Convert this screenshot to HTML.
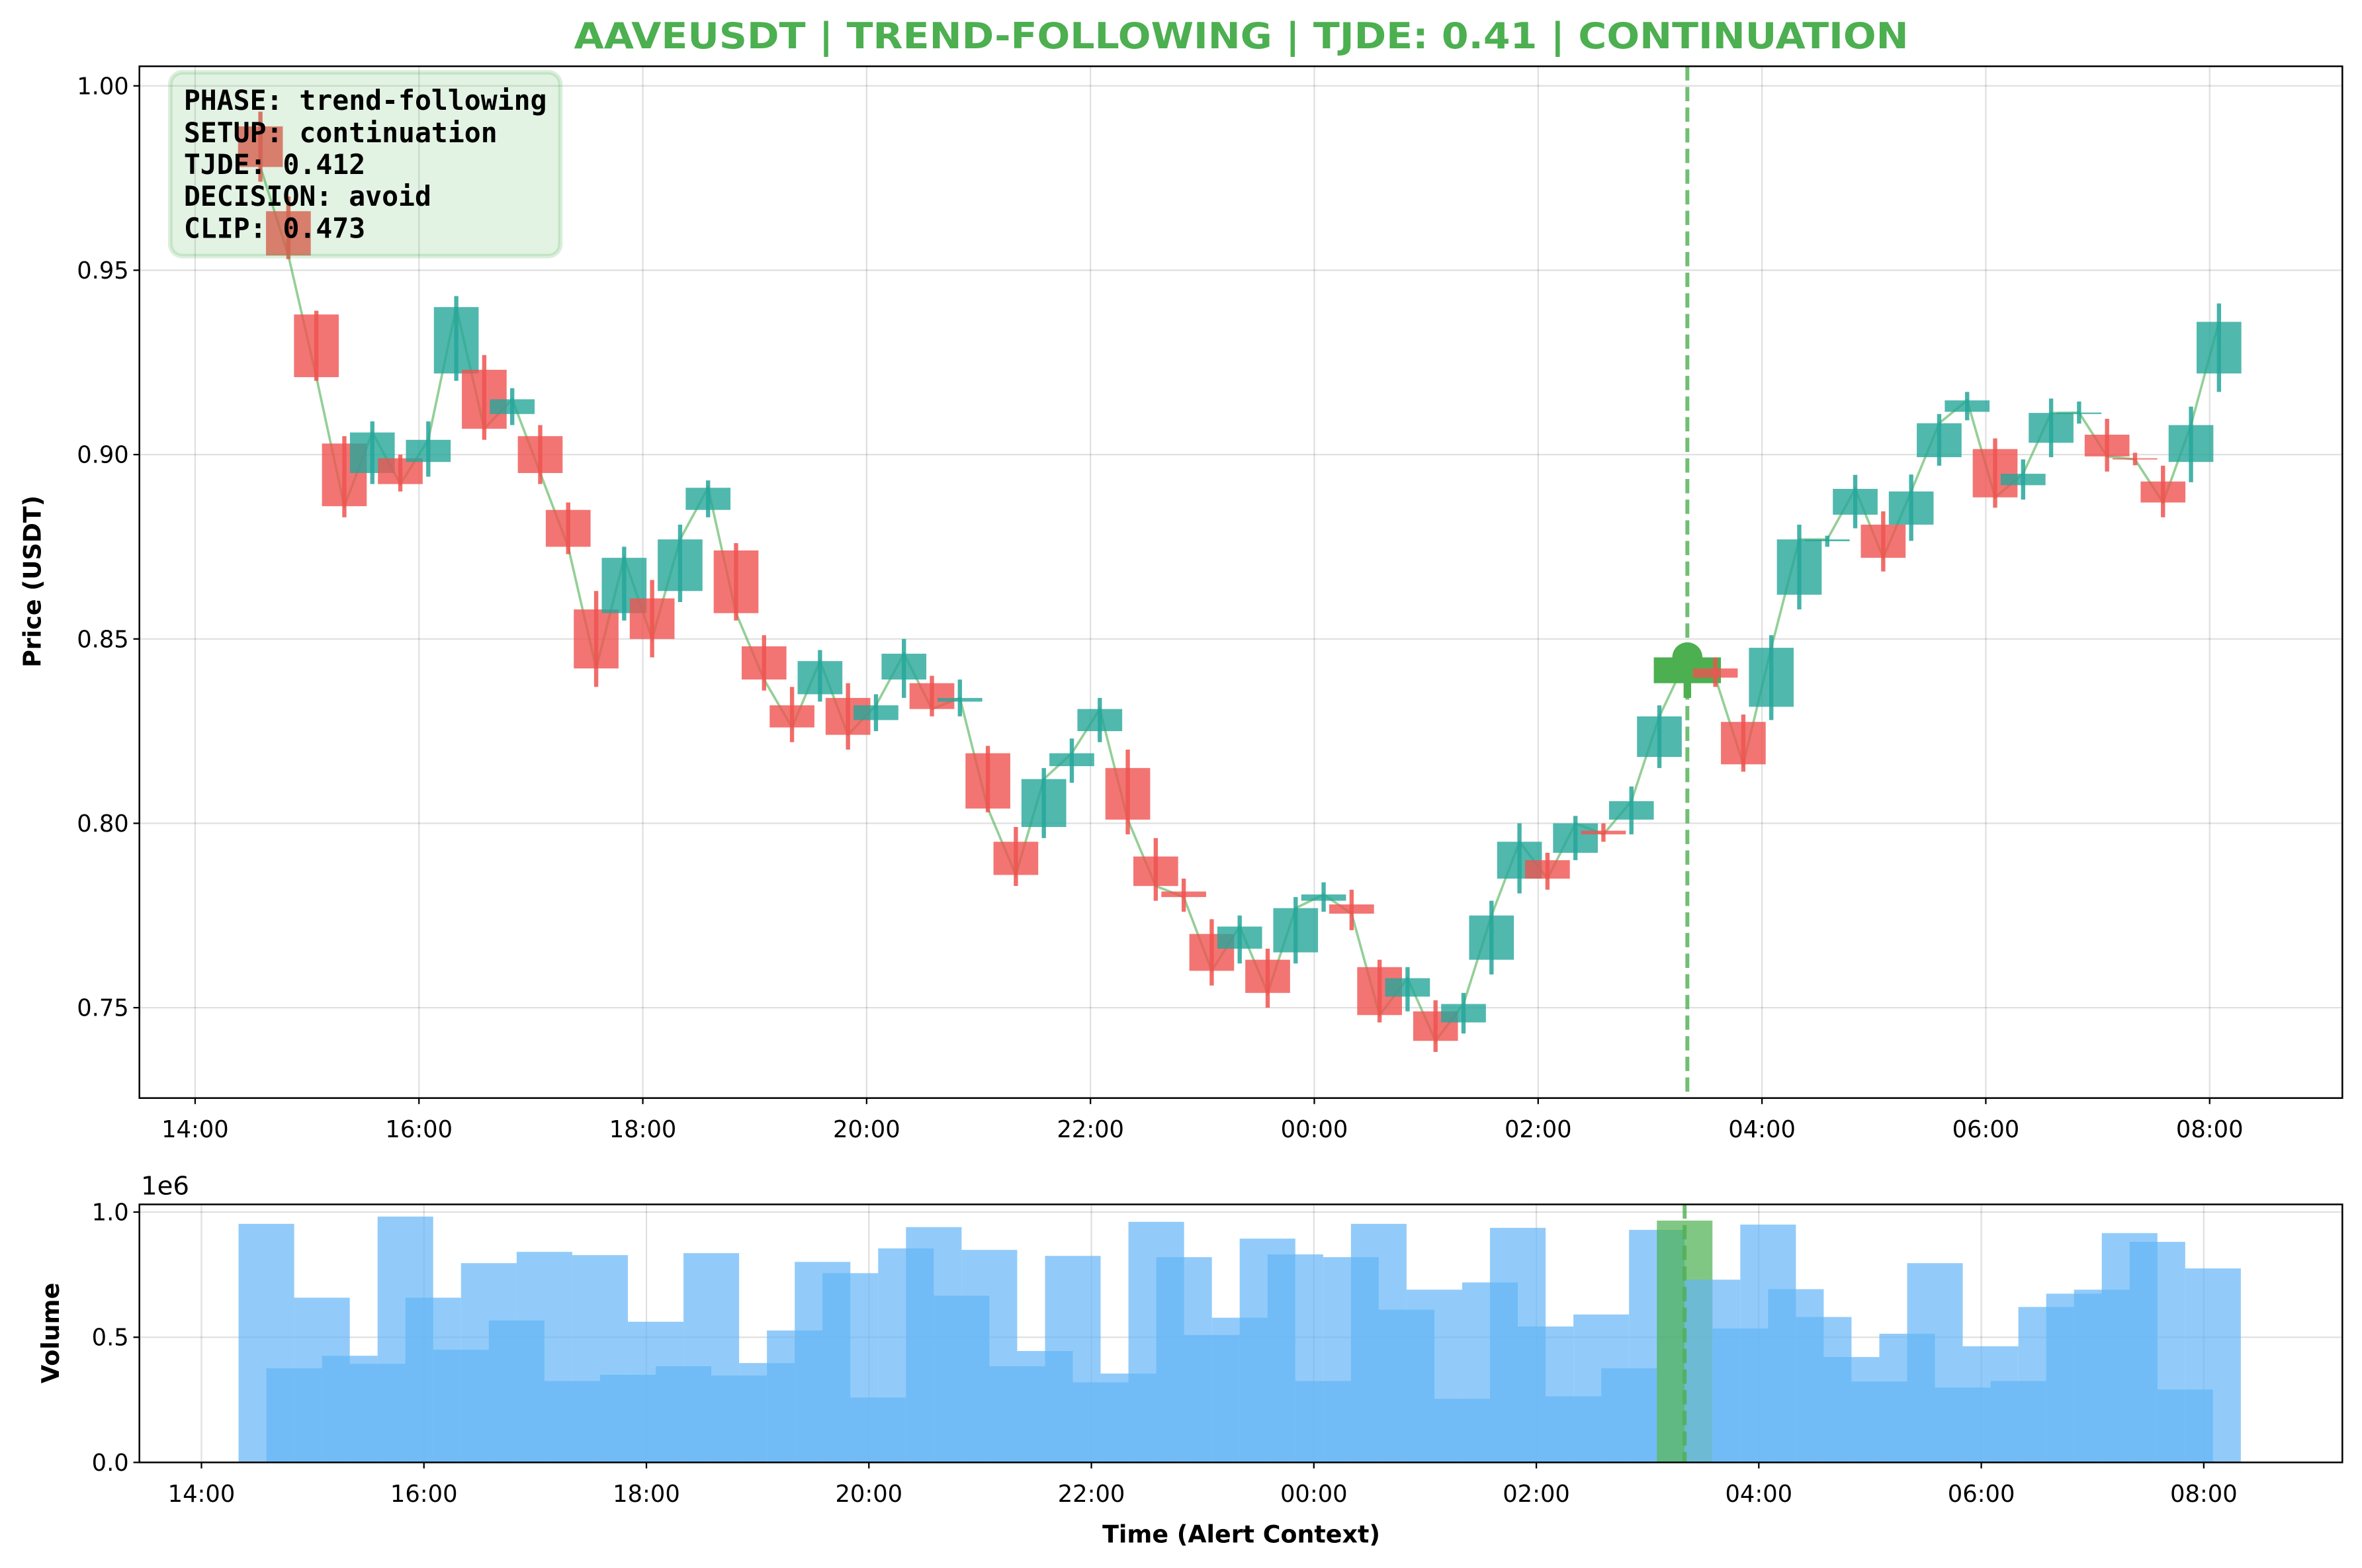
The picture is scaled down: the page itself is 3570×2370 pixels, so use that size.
<!DOCTYPE html>
<html><head><meta charset="utf-8"><style>
html,body{margin:0;padding:0;background:#fff;}
svg{display:block;}
text{font-family:"DejaVu Sans","Liberation Sans",sans-serif;}
</style></head><body>
<svg id="fig" xmlns="http://www.w3.org/2000/svg" width="3570" height="2370" viewBox="0 0 1568 1041">
<rect x="0" y="0" width="1568" height="1041" fill="#fff"/>
<text x="824" y="32" text-anchor="middle" font-size="24" font-weight="bold" fill="#4caf50" textLength="886" lengthAdjust="spacingAndGlyphs">AAVEUSDT | TREND-FOLLOWING | TJDE: 0.41 | CONTINUATION</text>
<g id="main"></g>
<g id="vol"></g>
<text transform="translate(27,386) rotate(-90)" text-anchor="middle" font-size="16" font-weight="bold">Price (USDT)</text>
<text transform="translate(39,885) rotate(-90)" text-anchor="middle" font-size="16" font-weight="bold">Volume</text>
<text x="824" y="1024" text-anchor="middle" font-size="16" font-weight="bold">Time (Alert Context)</text>
<text x="93.5" y="793" font-size="17">1e6</text>
<g>
<rect x="113" y="48" width="259" height="122" rx="8" ry="8" fill="#4caf50" fill-opacity="0.16" stroke="#4caf50" stroke-opacity="0.2" stroke-width="3"/>
<g font-size="18.2" font-weight="bold" fill="#000">
<text x="122" y="73" style="font-family:'DejaVu Sans Mono','Liberation Mono',monospace">PHASE: trend-following</text>
<text x="122" y="94.4" style="font-family:'DejaVu Sans Mono','Liberation Mono',monospace">SETUP: continuation</text>
<text x="122" y="115.6" style="font-family:'DejaVu Sans Mono','Liberation Mono',monospace">TJDE: 0.412</text>
<text x="122" y="136.6" style="font-family:'DejaVu Sans Mono','Liberation Mono',monospace">DECISION: avoid</text>
<text x="122" y="158" style="font-family:'DejaVu Sans Mono','Liberation Mono',monospace">CLIP: 0.473</text>
</g>
</g>
</svg>
<script>
const opens=[.989,.966,.938,.903,.895,.899,.898,.922,.923,.911,.905,.885,.858,.857,.861,.863,.885,.874,.848,.832,.835,.834,.828,.839,.838,.833,.819,.795,.799,.8155,.825,.815,.791,.7815,.770,.766,.763,.765,.779,.778,.761,.753,.749,.746,.763,.785,.790,.792,.798,.801,.818,.838,.842,.8275,.8316,.862,.8765,.8837,.881,.881,.8993,.9116,.9015,.8917,.9032,.911,.9054,.899,.8927,.898,.922];
const highs=[.993,.970,.939,.905,.909,.900,.909,.943,.927,.918,.908,.887,.863,.875,.866,.881,.893,.876,.851,.837,.847,.838,.835,.850,.840,.839,.821,.799,.815,.823,.834,.820,.796,.785,.774,.775,.766,.780,.784,.782,.763,.761,.752,.754,.779,.800,.792,.802,.800,.810,.832,.8465,.845,.8295,.851,.881,.878,.8945,.8846,.8946,.911,.917,.9044,.8987,.9152,.9144,.9097,.9005,.897,.913,.941];
const lows=[.974,.953,.920,.883,.892,.890,.894,.920,.904,.908,.892,.873,.837,.855,.845,.860,.883,.855,.836,.822,.833,.820,.825,.834,.829,.829,.803,.783,.796,.811,.822,.797,.779,.776,.756,.762,.750,.762,.776,.771,.746,.749,.738,.743,.759,.781,.782,.790,.795,.797,.815,.834,.837,.814,.828,.858,.875,.880,.8683,.8766,.897,.9093,.8856,.8878,.8993,.9084,.8954,.8971,.883,.8925,.917];
const closes=[.978,.954,.921,.886,.906,.892,.904,.940,.907,.915,.895,.875,.842,.872,.850,.877,.891,.857,.839,.826,.844,.824,.832,.846,.831,.834,.804,.786,.812,.819,.831,.801,.783,.780,.760,.772,.754,.777,.7807,.7755,.748,.758,.741,.751,.775,.795,.785,.800,.797,.806,.829,.845,.8395,.816,.8476,.877,.877,.8907,.872,.890,.9085,.9147,.8884,.8948,.9113,.9114,.8995,.8987,.887,.908,.936];
const volumes=[0.953,0.376,0.658,0.426,0.394,0.982,0.658,0.450,0.796,0.567,0.841,0.325,0.828,0.350,0.562,0.384,0.836,0.347,0.397,0.527,0.801,0.756,0.259,0.855,0.940,0.666,0.849,0.384,0.445,0.825,0.320,0.355,0.961,0.820,0.509,0.578,0.894,0.831,0.325,0.820,0.953,0.610,0.690,0.254,0.719,0.937,0.543,0.264,0.591,0.376,0.929,0.966,0.730,0.535,0.950,0.692,0.581,0.421,0.323,0.514,0.796,0.299,0.464,0.325,0.621,0.674,0.690,0.916,0.881,0.291,0.775];
const alertIndex=51;
const priceTicks=[0.75,0.80,0.85,0.90,0.95,1.00];
const priceTickLabels=["0.75","0.80","0.85","0.90","0.95","1.00"];
const volTicks=[0,0.5,1.0];
const volTickLabels=["0.0","0.5","1.0"];
const timeTicks=[0,2,4,6,8,10,12,14,16,18];
const timeTickLabels=["14:00","16:00","18:00","20:00","22:00","00:00","02:00","04:00","06:00","08:00"];
const startHour=0.5833, stepHour=0.25;

const NS="http://www.w3.org/2000/svg";
function mk(tag,attrs,parent){const e=document.createElementNS(NS,tag);for(const k in attrs)e.setAttribute(k,attrs[k]);parent.appendChild(e);return e;}
const M={l:92.5,r:1555,t:44,b:729};
const V={l:92.5,r:1555,t:799.6,b:970.9};
const xm=t=>129.5+74.3*t;
const xv=t=>133.7+73.85*t;
const ym=p=>57+(1.0-p)/0.05*122.4;
const yv=v=>970.9-v*166.2;
const tOf=i=>startHour+stepHour*i;
const main=document.getElementById('main');
const vol=document.getElementById('vol');

timeTicks.forEach((t,k)=>{
  const g=mk('line',{x1:xm(t),x2:xm(t),y1:M.t,y2:M.b,stroke:'#000','stroke-opacity':0.12,'stroke-width':1},main);
  
  
});
priceTicks.forEach((p,k)=>{
  const g=mk('line',{x1:M.l,x2:M.r,y1:ym(p),y2:ym(p),stroke:'#000','stroke-opacity':0.12,'stroke-width':1},main);
  
  
});
let pts=closes.map((c,i)=>xm(tOf(i)).toFixed(2)+','+ym(c).toFixed(2)).join(' ');
const cl=mk('polyline',{points:pts,fill:'none',stroke:'#4caf50','stroke-opacity':0.6,'stroke-width':1.6},main);


const bodyW=0.4*74.3;
for(let i=0;i<opens.length;i++){
  const x=xm(tOf(i));
  const up=closes[i]>=opens[i];
  const alert=i===alertIndex;
  const col=alert?'#4caf50':(up?'#26a69a':'#ef5350');
  const w=alert?bodyW*1.5:bodyW;
  const top=ym(Math.max(opens[i],closes[i])), bot=ym(Math.min(opens[i],closes[i]));
  if(alert){
    const mkr=mk('circle',{cx:x,cy:ym(closes[i]),r:10,fill:'#4caf50'},main);
    
    
  }
  const b=mk('rect',{x:x-w/2,y:top,width:w,height:Math.max(bot-top,0.8),fill:col,'fill-opacity':alert?1:0.8},main);
  
  
  const wk=mk('line',{x1:x,x2:x,y1:ym(highs[i]),y2:ym(lows[i]),stroke:col,'stroke-opacity':alert?1:0.85,'stroke-width':alert?5:2.8},main);
  
  
}
const xa=xm(tOf(alertIndex));
const al=mk('line',{x1:xa,x2:xa,y1:M.t,y2:M.b,stroke:'#4caf50','stroke-opacity':0.8,'stroke-width':2.6,'stroke-dasharray':'9.5,4.2'},main);


const mf=mk('rect',{x:M.l,y:M.t,width:M.r-M.l,height:M.b-M.t,fill:'none',stroke:'#000','stroke-width':1.1},main);


priceTicks.forEach((p,k)=>{
  const tk=mk('line',{x1:M.l-4,x2:M.l,y1:ym(p),y2:ym(p),stroke:'#000','stroke-width':1},main);
  
  
  const tl=mk('text',{x:M.l-7,y:ym(p)+5.5,'text-anchor':'end','font-size':15.5},main);
  tl.textContent=priceTickLabels[k];
  
  
});
timeTicks.forEach((t,k)=>{
  const tk=mk('line',{x1:xm(t),x2:xm(t),y1:M.b,y2:M.b+4,stroke:'#000','stroke-width':1},main);
  
  
  const tl=mk('text',{x:xm(t),y:755,'text-anchor':'middle','font-size':15.5},main);
  tl.textContent=timeTickLabels[k];
  
  
});

timeTicks.forEach(t=>{
  const g=mk('line',{x1:xv(t),x2:xv(t),y1:V.t,y2:V.b,stroke:'#000','stroke-opacity':0.12,'stroke-width':1},vol);
  
  
});
volTicks.forEach(v=>{
  const g=mk('line',{x1:V.l,x2:V.r,y1:yv(v),y2:yv(v),stroke:'#000','stroke-opacity':0.12,'stroke-width':1},vol);
  
  
});
const barW=0.5*73.85;
for(let i=0;i<volumes.length;i++){
  const x=xv(tOf(i));
  const alert=i===alertIndex;
  const r=mk('rect',{x:x-barW/2,y:yv(volumes[i]),width:barW,height:V.b-yv(volumes[i]),fill:alert?'#4caf50':'#64b5f6','fill-opacity':0.7},vol);
  
  
}
const xva=xv(tOf(alertIndex));
const av=mk('line',{x1:xva,x2:xva,y1:V.t,y2:V.b,stroke:'#4caf50','stroke-opacity':0.8,'stroke-width':2.6,'stroke-dasharray':'9.5,4.2'},vol);


const vf=mk('rect',{x:V.l,y:V.t,width:V.r-V.l,height:V.b-V.t,fill:'none',stroke:'#000','stroke-width':1.1},vol);


volTicks.forEach((v,k)=>{
  const tk=mk('line',{x1:V.l-4,x2:V.l,y1:yv(v),y2:yv(v),stroke:'#000','stroke-width':1},vol);
  
  
  const tl=mk('text',{x:V.l-7,y:yv(v)+5.5,'text-anchor':'end','font-size':15.5},vol);
  tl.textContent=volTickLabels[k];
  
  
});
timeTicks.forEach((t,k)=>{
  const tk=mk('line',{x1:xv(t),x2:xv(t),y1:V.b,y2:V.b+4,stroke:'#000','stroke-width':1},vol);
  
  
  const tl=mk('text',{x:xv(t),y:997,'text-anchor':'middle','font-size':15.5},vol);
  tl.textContent=timeTickLabels[k];
  
  
});
</script>
</body></html>
